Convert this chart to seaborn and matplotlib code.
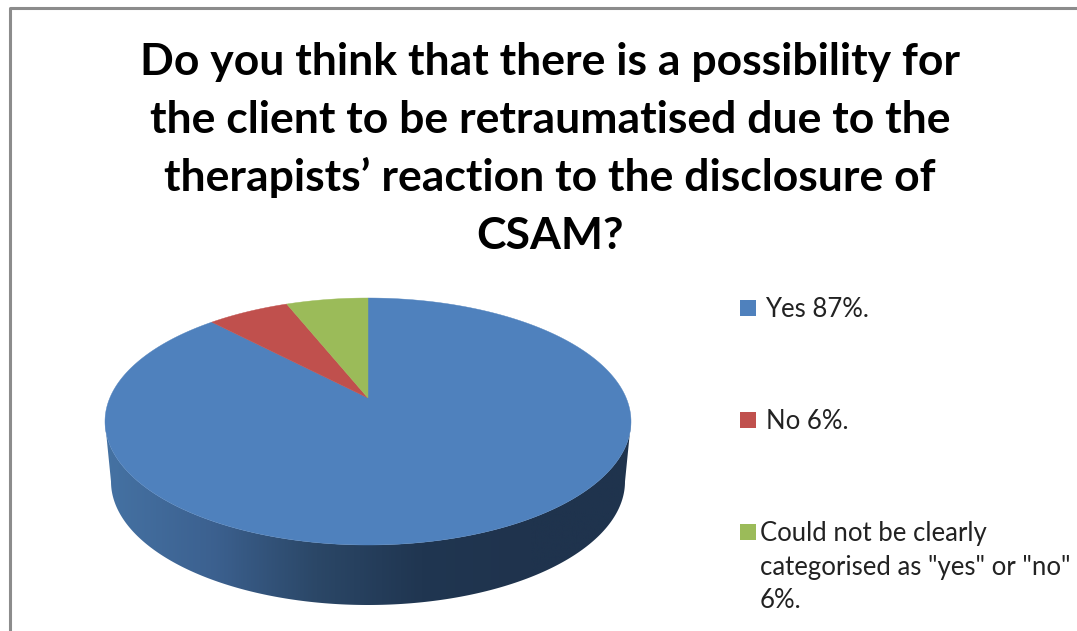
import numpy as np
import seaborn as sns
import matplotlib.pyplot as plt
from matplotlib.colors import LinearSegmentedColormap
from matplotlib.patches import Polygon

title = ("Do you think that there is a possibility for\n"
         "the client to be retraumatised due to the\n"
         "therapists\u2019 reaction to the disclosure of\n"
         "CSAM?")
labels = ["Yes 87%.", "No 6%.",
          "Could not be clearly\ncategorised as \"yes\" or \"no\"\n6%."]
values = [87, 6, 6]
colors = ["#4f81bd", "#c0504d", "#9bbb59"]
side_colors = ["#4572a3", "#3c6190", "#2b4767", "#203651", "#1f334d", "#1f334d"]

sns.set_theme(style="white")
plt.rcParams["font.family"] = ["Lato", "DejaVu Sans"]

# top face of the tilted pie, in pixels of the picture
cx, cy, rx, ry = 368, 421.5, 263, 123.5
apex_y = 398
stretch = 2.16
depth = 60


def rim(theta):
    # where the ray from the apex hits the ellipse, theta clockwise from 12 o'clock
    dx, dy = stretch * np.sin(theta), -np.cos(theta)
    oy = apex_y - cy
    a = (dx / rx) ** 2 + (dy / ry) ** 2
    b = 2 * oy * dy / ry ** 2
    c = (oy / ry) ** 2 - 1
    t = (-b + np.sqrt(b ** 2 - 4 * a * c)) / (2 * a)
    return cx + t * dx, apex_y + t * dy


fig = plt.figure(figsize=(10.77, 6.31), dpi=100)
ax = fig.add_axes([0, 0, 1, 1])

# side wall with the horizontal shading
front = np.linspace(0, np.pi, 200)
top_x = cx + rx * np.cos(front)
top_y = cy + ry * np.sin(front)
bot_x = cx + (rx - 6) * np.cos(front)
bot_y = cy + depth + ry * np.sin(front)
wall = Polygon(np.r_[np.c_[top_x, top_y], np.c_[bot_x, bot_y][::-1]], closed=True,
               fc="none", ec="none")
ax.add_patch(wall)
cmap = LinearSegmentedColormap.from_list("side", sns.blend_palette(side_colors, 64))
shade = ax.imshow(np.linspace(0, 1, 256)[None, :], cmap=cmap, aspect="auto",
                  extent=[cx - rx, cx + rx, cy + depth + ry, cy])
shade.set_clip_path(wall)

# slices of the top face, clockwise from 12 o'clock
edges = np.r_[0, np.cumsum(values)] / np.sum(values) * 2 * np.pi
for i in range(len(values)):
    xs, ys = rim(np.linspace(edges[i], edges[i + 1], 400))
    ax.fill(np.r_[cx, xs], np.r_[apex_y, ys], color=colors[i], lw=0.3, zorder=3)

# chart frame, only top and left are in view
ax.plot([10, 10, 1077], [631, 7.5, 7.5], color="#8c8c8c", lw=2.2, zorder=4)

ax.text(550, 149, title, ha="center", va="center", fontsize=32, fontweight="bold",
        color="#000000", linespacing=1.52)

# legend
legend_y = [308, 420, 532]
text_x = [765, 766, 760]
for y, x, c, lab in zip(legend_y, text_x, colors, labels):
    ax.scatter([747.5], [y], marker="s", s=125, color=c, lw=0, zorder=3)
    ax.text(x, y - 11, lab, ha="left", va="top", fontsize=18.5, color="#222222",
            linespacing=1.43)

ax.set_xlim(0, 1077)
ax.set_ylim(631, 0)
ax.axis("off")
fig.savefig("out.png", dpi=100, facecolor="white")
